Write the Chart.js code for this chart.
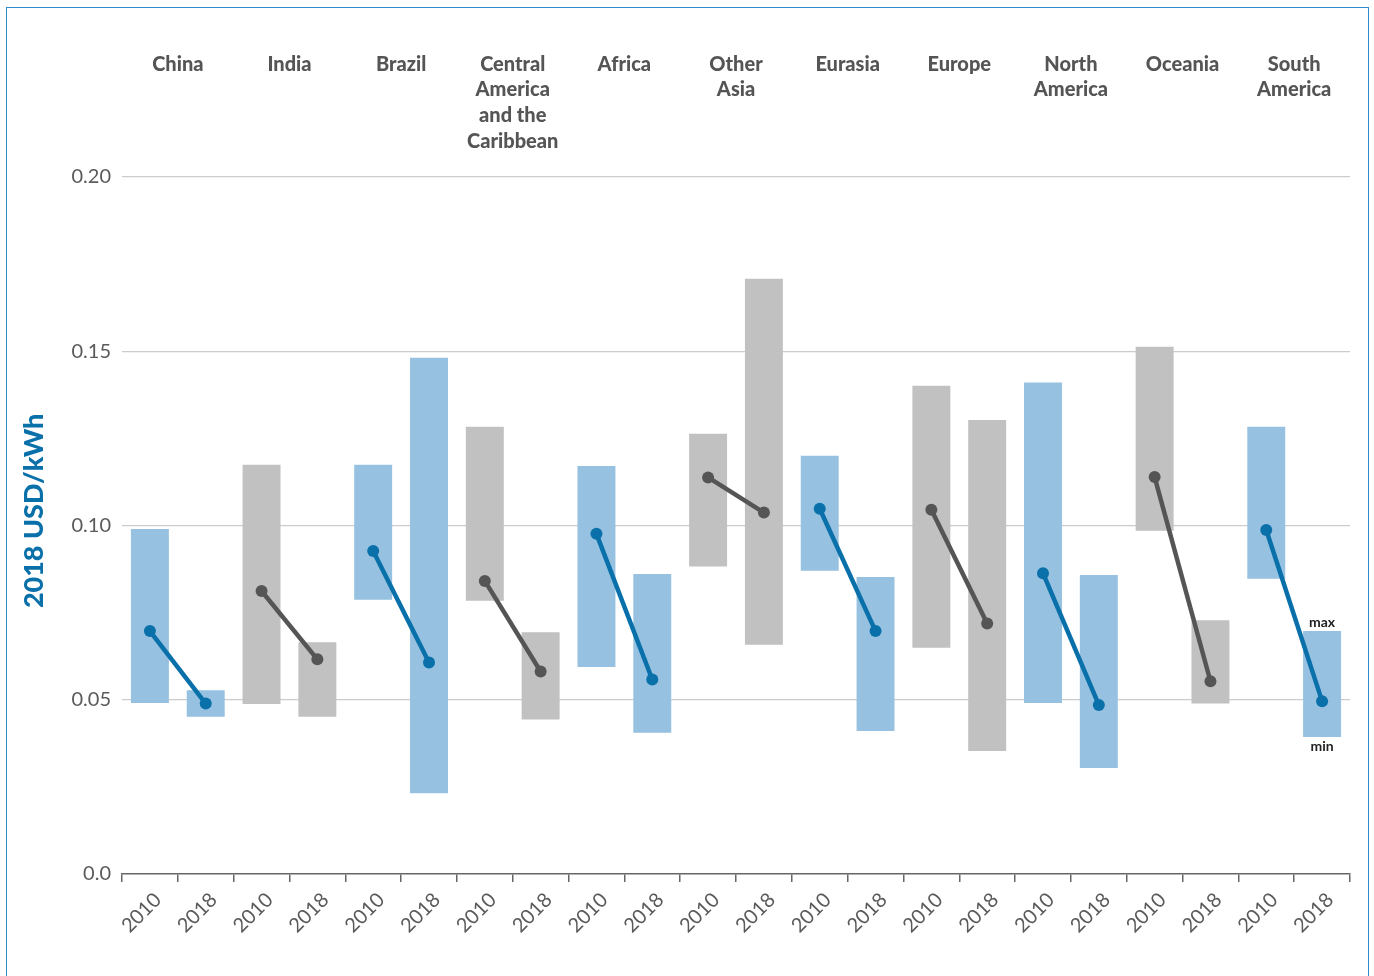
<!DOCTYPE html>
<html>
<head>
<meta charset="utf-8">
<script src="https://cdn.jsdelivr.net/npm/chart.js@4/dist/chart.umd.min.js"></script>
<style>
  html, body { margin: 0; padding: 0; background: #ffffff; }
  #wrap { position: relative; width: 1374px; height: 976px; overflow: hidden; }
  #c { position: absolute; left: 0; top: 0; }
  #frame { position: absolute; left: 6px; top: 7px; width: 1361px; height: 1000px;
           border: 1.5px solid #2f8bcb; pointer-events: none; }
</style>
</head>
<body>
<div id="wrap">
  <canvas id="c" width="1374" height="976"></canvas>
  <div id="frame"></div>
</div>
<script>
// ---- data ----
const regions = ["China", "India", "Brazil", ["Central", "America", "and the", "Caribbean"], "Africa",
  ["Other", "Asia"], "Eurasia", "Europe", ["North", "America"], "Oceania", ["South", "America"]];
const years = ["2010", "2018"];
const yTicks = [0, 0.05, 0.10, 0.15, 0.20];
const yTitle = "2018 USD/kWh";
// min / max of LCOE ranges (2010, 2018 alternating per region)
const rangeMin = [0.0491, 0.0451, 0.0488, 0.0451, 0.0787, 0.0232, 0.0784, 0.0443, 0.0594, 0.0405,
  0.0882, 0.0658, 0.0870, 0.0410, 0.0649, 0.0353, 0.0491, 0.0304, 0.0985, 0.0489, 0.0847, 0.0393];
const rangeMax = [0.0990, 0.0527, 0.1174, 0.0665, 0.1174, 0.1481, 0.1283, 0.0694, 0.1171, 0.0861,
  0.1263, 0.1708, 0.1200, 0.0852, 0.1401, 0.1303, 0.1410, 0.0858, 0.1513, 0.0728, 0.1283, 0.0697];
// weighted averages
const weightedAvg = [0.0697, 0.0489, 0.0812, 0.0616, 0.0927, 0.0607, 0.0841, 0.0581, 0.0976, 0.0558,
  0.1138, 0.1037, 0.1048, 0.0697, 0.1045, 0.0719, 0.0863, 0.0485, 0.1139, 0.0553, 0.0987, 0.0496];
// region colour group: 0 = blue, 1 = grey
const regionGroup = [0, 1, 0, 1, 0, 1, 0, 1, 0, 1, 0];

// ---- derived ----
const xLabels = [];
regions.forEach(() => years.forEach(y => xLabels.push(y)));
const barFill = ["#96c1e0", "#c1c1c1"];
const lineCol = ["#0a70aa", "#555555"];
const barColors = xLabels.map((_, i) => barFill[regionGroup[Math.floor(i / 2)]]);
const pointColors = xLabels.map((_, i) => lineCol[regionGroup[Math.floor(i / 2)]]);
const floating = rangeMin.map((v, i) => [v, rangeMax[i]]);

const FONT = "Lato, 'Open Sans', sans-serif";

const annotPlugin = {
  id: 'annot',
  afterDatasetsDraw(chart) {
    const meta = chart.getDatasetMeta(1);
    const last = meta.data.length - 1;
    const el = meta.data[last];
    const y = chart.scales.y;
    const ctx = chart.ctx;
    ctx.save();
    ctx.fillStyle = "#222222";
    ctx.font = "bold 14px " + FONT;
    ctx.textAlign = "center";
    ctx.textBaseline = "bottom";
    ctx.fillText("max", el.x, y.getPixelForValue(rangeMax[last]) - 2);
    ctx.textBaseline = "top";
    ctx.fillText("min", el.x, y.getPixelForValue(rangeMin[last]) + 2);
    ctx.restore();
  },
  afterDraw(chart) {
    // y-axis title
    const ctx = chart.ctx;
    const y = chart.scales.y;
    ctx.save();
    ctx.translate(34, y.getPixelForValue(0.1042));
    ctx.rotate(-Math.PI / 2);
    ctx.fillStyle = "#0a70aa";
    ctx.font = "900 27px " + FONT;
    ctx.textAlign = "center";
    ctx.textBaseline = "middle";
    ctx.fillText(yTitle, 0, 0);
    ctx.restore();
  }
};

new Chart(document.getElementById('c'), {
  data: {
    labels: xLabels,
    datasets: [
      {
        type: 'line',
        data: weightedAvg,
        order: 0,
        borderWidth: 4.5,
        pointRadius: 6,
        pointHoverRadius: 6,
        pointBorderWidth: 0,
        pointBackgroundColor: pointColors,
        pointBorderColor: pointColors,
        borderColor: pointColors[0],
        segment: {
          borderColor: ctx => ctx.p0DataIndex % 2 === 0 ? pointColors[ctx.p0DataIndex] : 'rgba(0,0,0,0)'
        },
        tension: 0
      },
      {
        type: 'bar',
        data: floating,
        order: 1,
        backgroundColor: barColors,
        borderWidth: 0,
        barPercentage: 0.68,
        categoryPercentage: 1.0
      }
    ]
  },
  plugins: [annotPlugin],
  options: {
    responsive: false,
    animation: false,
    events: [],
    layout: { padding: { left: 0, right: 24, top: 0, bottom: 0 } },
    plugins: { legend: { display: false }, tooltip: { enabled: false } },
    scales: {
      x: {
        position: 'bottom',
        offset: true,
        grid: { offset: true, drawOnChartArea: false, drawTicks: true, tickLength: 8, color: '#666666', lineWidth: 1.5 },
        border: { display: true, color: '#666666', width: 1.5 },
        ticks: {
          autoSkip: false, minRotation: 45, maxRotation: 45, padding: 6, labelOffset: 8,
          color: '#5a5a5a', font: { family: FONT, size: 20, weight: 400 }
        },
        afterFit(s) { s.height = 102; }
      },
      top: {
        type: 'category',
        position: 'top',
        labels: regions,
        offset: true,
        grid: { display: false },
        border: { display: false },
        ticks: {
          autoSkip: false, maxRotation: 0, minRotation: 0, crossAlign: 'far', padding: 15,
          color: '#555555', font: { family: FONT, size: 20, weight: 900, lineHeight: 1.28 }
        },
        afterFit(s) { s.height = 177; }
      },
      y: {
        min: 0, max: 0.2,
        afterBuildTicks(s) { s.ticks = yTicks.map(v => ({ value: v })); },
        grid: { color: ctx => ctx.tick && ctx.tick.value === 0 ? 'rgba(0,0,0,0)' : '#cccccc', lineWidth: 1.2, drawTicks: false },
        border: { display: false },
        ticks: {
          padding: 11, color: '#5a5a5a', font: { family: FONT, size: 20, weight: 400 },
          callback: v => v === 0 ? '0.0' : v.toFixed(2)
        },
        afterFit(s) { s.width = 122; }
      }
    }
  }
});
</script>
</body>
</html>
